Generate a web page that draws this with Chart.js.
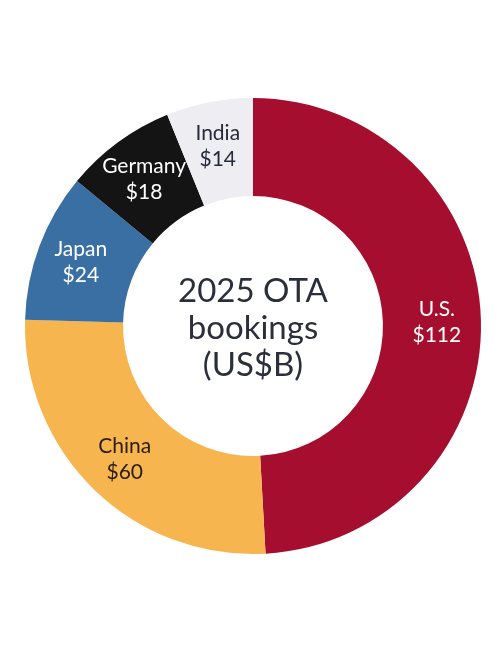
<!DOCTYPE html>
<html>
<head>
<meta charset="utf-8">
<script src="https://cdn.jsdelivr.net/npm/chart.js@4.4.1/dist/chart.umd.min.js"></script>
<style>
  html, body { margin: 0; padding: 0; background: #fff; }
  #wrap { width: 500px; height: 650px; }
</style>
</head>
<body>
<div id="wrap"><canvas id="otaChart" width="500" height="650"></canvas></div>
<script>
// 2025 OTA bookings, US$ billions
const countries = ['U.S.', 'China', 'Japan', 'Germany', 'India'];
const bookings = [112, 60, 24, 18, 14];
const sliceColors = ['#A50E2E', '#F6B54F', '#3A6FA3', '#141414', '#EEEEF2'];
const labelColors = ['#ffffff', '#2a1c12', '#ffffff', '#ffffff', '#262a3a'];
const centerLines = ['2025 OTA', 'bookings', '(US$B)'];

const FONT = 'Lato, "Noto Sans", sans-serif';

// writes country + value on each slice, a bit outside mid-ring where slices are wider
const sliceLabels = {
  id: 'sliceLabels',
  afterDatasetsDraw(chart) {
    const ctx = chart.ctx;
    const meta = chart.getDatasetMeta(0);
    ctx.save();
    ctx.textAlign = 'center';
    ctx.textBaseline = 'middle';
    ctx.font = '400 21px ' + FONT;
    meta.data.forEach((arc, i) => {
      const a = arc.getProps(['x', 'y', 'startAngle', 'endAngle', 'innerRadius', 'outerRadius']);
      const mid = (a.startAngle + a.endAngle) / 2;
      const r = a.innerRadius + (a.outerRadius - a.innerRadius) * 0.55;
      const x = a.x + Math.cos(mid) * r;
      const y = a.y + Math.sin(mid) * r;
      ctx.fillStyle = labelColors[i];
      ctx.fillText(countries[i], x, y - 12);
      ctx.fillText('$' + bookings[i], x, y + 14);
    });
    ctx.restore();
  }
};

// title in the hole
const centerText = {
  id: 'centerText',
  afterDraw(chart) {
    const ctx = chart.ctx;
    const arc = chart.getDatasetMeta(0).data[0];
    ctx.save();
    ctx.textAlign = 'center';
    ctx.textBaseline = 'middle';
    ctx.fillStyle = '#2b2e3b';
    ctx.font = '400 33px ' + FONT;
    centerLines.forEach((line, i) => {
      ctx.fillText(line, arc.x, arc.y + 2 + (i - 1) * 37);
    });
    ctx.restore();
  }
};

new Chart(document.getElementById('otaChart'), {
  type: 'doughnut',
  data: {
    labels: countries,
    datasets: [{
      data: bookings,
      backgroundColor: sliceColors,
      borderWidth: 0
    }]
  },
  options: {
    responsive: false,
    animation: false,
    cutout: '57%',
    rotation: 0,
    layout: { padding: { left: 25, right: 19, top: 98, bottom: 96 } },
    plugins: {
      legend: { display: false },
      tooltip: { enabled: false }
    }
  },
  plugins: [sliceLabels, centerText]
});
</script>
</body>
</html>
